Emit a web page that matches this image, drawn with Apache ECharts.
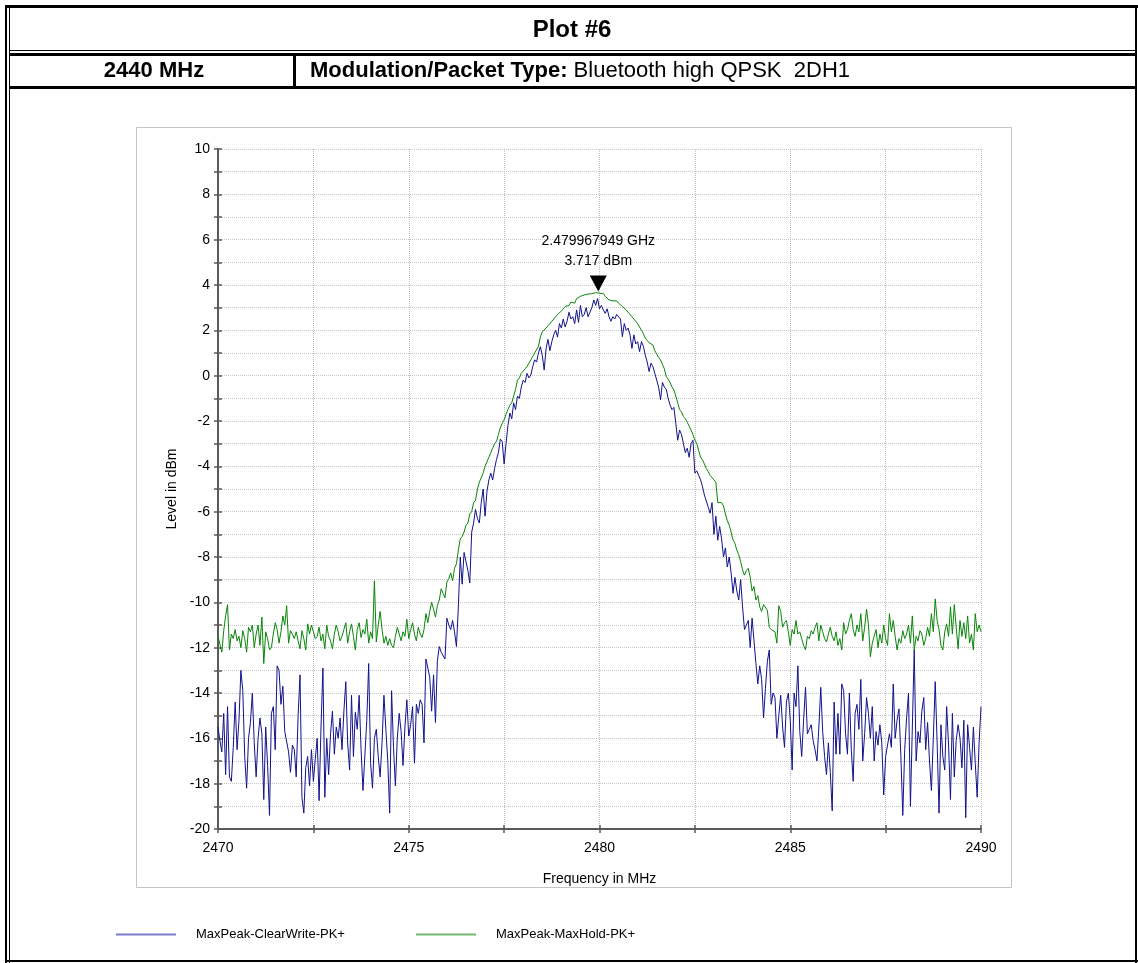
<!DOCTYPE html>
<html>
<head>
<meta charset="utf-8">
<script src="https://cdn.jsdelivr.net/npm/echarts@6/dist/echarts.min.js"></script>
<style>
html,body{margin:0;padding:0;background:#fff;}
#chart{width:1138px;height:963px;}
</style>
</head>
<body>
<div id="chart"></div>
<script>
// ---------- data ----------
const TITLE = 'Plot #6';
const CHANNEL = '2440 MHz';
const MOD_LABEL = 'Modulation/Packet Type:';
const MOD_VALUE = 'Bluetooth high QPSK  2DH1';
const X_NAME = 'Frequency in MHz';
const Y_NAME = 'Level in dBm';
const X_MIN = 2470, X_MAX = 2490, X_TICK = 2.5, X_LABEL_STEP = 5;
const Y_MIN = -20, Y_MAX = 10, Y_TICK = 1, Y_LABEL_STEP = 2;
const FREQ_START = 2470, FREQ_STEP = 0.05;   // sweep points (MHz)
const SERIES_NAMES = ['MaxPeak-ClearWrite-PK+', 'MaxPeak-MaxHold-PK+'];
const MARKER_FREQ_MHZ = 2479.967949;
const MARKER_LEVEL = 3.717;

const CLEARWRITE = [
-15.5,-16.1,-16.6,-14.9,-17.6,-14.6,-17.7,-17.9,-16.4,-14.4,-16.5,-15.2,-13.0,-13.9,-16.8,-18.2,-16.0,-15.3,-14.0,-16.2,
-17.7,-16.0,-15.1,-15.8,-18.7,-15.5,-17.2,-19.4,-14.9,-14.6,-16.5,-12.8,-13.0,-14.5,-13.7,-15.7,-15.7,-16.6,-17.5,-16.3,
-16.5,-17.7,-15.0,-13.2,-18.6,-19.3,-17.3,-16.8,-18.1,-16.5,-17.9,-16.9,-16.0,-18.75,-15.5,-12.9,-18.6,-16.0,-17.6,-15.8,
-14.8,-16.7,-15.5,-16.0,-15.1,-16.5,-14.8,-13.5,-16.25,-17.4,-14.1,-16.8,-14.85,-15.6,-14.1,-16.5,-18.3,-18.3,-15.2,-12.7,
-17.1,-18.2,-16.0,-15.6,-16.8,-17.7,-16.2,-14.1,-15.6,-17.0,-19.3,-13.9,-16.4,-18.1,-16.0,-14.9,-15.7,-17.2,-15.5,-14.3,
-15.9,-15.4,-14.6,-17.1,-14.5,-14.9,-14.3,-14.5,-16.2,-12.5,-12.9,-13.3,-14.8,-13.2,-15.3,-12.6,-11.95,-12.2,-12.2,-12.5,
-10.7,-11.0,-11.2,-10.8,-11.3,-11.95,-10.2,-8.0,-9.2,-7.8,-7.8,-8.6,-9.15,-6.9,-6.5,-5.9,-6.3,-6.5,-5.6,-5.0,
-6.2,-5.1,-4.6,-4.3,-4.6,-4.1,-3.7,-3.4,-2.8,-2.9,-3.9,-3.0,-2.2,-1.65,-1.9,-1.2,-1.5,-0.9,-1.0,-0.5,
-0.2,-0.3,0.1,-0.1,0.03,0.4,0.7,0.6,1.0,1.28,0.9,0.25,1.2,1.6,1.1,1.5,1.8,2.0,1.7,2.3,
2.1,2.5,2.15,2.4,2.8,2.5,2.6,2.3,2.9,2.35,3.1,2.6,2.7,3.0,2.6,2.8,3.0,3.34,3.1,3.4,
2.95,3.1,2.9,2.75,2.95,2.6,2.4,2.6,2.5,2.7,2.7,2.5,1.72,2.3,2.0,2.1,1.8,1.2,1.8,1.4,
1.5,1.06,1.5,1.3,0.9,0.6,0.18,0.55,0.4,0.1,0.1,-0.5,-1.07,-0.3,-0.5,-0.6,-1.0,-1.3,-1.5,-1.4,
-2.1,-2.85,-2.4,-2.6,-3.0,-3.4,-3.2,-3.6,-3.0,-2.85,-4.3,-4.2,-4.4,-4.6,-4.9,-5.27,-5.3,-5.8,-6.07,-5.6,
-7.0,-6.2,-7.26,-6.65,-7.2,-8.0,-7.6,-8.44,-8.0,-8.7,-9.6,-8.9,-9.5,-9.9,-9.0,-10.2,-11.2,-11.25,-10.8,-12.0,
-10.7,-11.7,-12.7,-13.6,-12.8,-13.4,-15.1,-13.8,-12.6,-12.1,-14.5,-14.0,-14.2,-16.0,-15.0,-14.1,-15.5,-16.4,-14.4,-14.0,
-15.2,-17.4,-14.0,-14.6,-12.8,-15.7,-16.8,-15.2,-13.75,-15.8,-15.6,-15.4,-16.1,-16.5,-17.0,-15.5,-13.75,-15.7,-16.8,-17.6,
-16.2,-17.5,-19.2,-14.4,-16.7,-14.9,-16.7,-13.6,-13.9,-15.8,-16.7,-14.0,-16.5,-17.9,-14.9,-14.5,-15.6,-13.4,-17.0,-15.8,
-14.2,-14.9,-16.0,-14.6,-17.0,-15.7,-16.3,-15.4,-16.2,-18.5,-16.8,-16.8,-15.8,-16.4,-13.6,-16.0,-15.2,-14.7,-16.8,-19.4,
-16.5,-15.1,-14.0,-19.0,-15.5,-12.1,-17.0,-15.7,-16.2,-14.8,-14.2,-16.5,-15.3,-17.0,-18.3,-16.0,-13.5,-16.2,-19.3,-15.4,
-16.8,-17.4,-14.6,-16.3,-18.7,-14.9,-17.7,-16.1,-15.4,-16.0,-17.3,-15.2,-19.5,-15.4,-16.4,-17.4,-15.5,-17.1,-18.6,-16.2,
-14.6
];

const MAXHOLD = [
-11.5,-11.5,-12.2,-11.25,-10.6,-10.1,-12.1,-11.4,-11.6,-11.2,-11.7,-11.5,-12.0,-11.25,-11.6,-12.2,-11.1,-11.3,-11.0,-12.0,
-11.4,-11.0,-11.9,-10.65,-12.7,-11.3,-11.6,-12.1,-12.0,-11.4,-10.9,-11.2,-11.8,-11.3,-10.6,-11.0,-10.15,-11.8,-11.25,-11.4,
-11.6,-11.3,-11.7,-12.05,-11.25,-11.6,-12.1,-10.95,-11.4,-11.0,-11.3,-11.6,-11.5,-11.1,-11.7,-11.4,-12.05,-11.0,-11.5,-11.7,
-12.05,-11.4,-11.0,-11.3,-11.7,-11.5,-11.2,-10.9,-11.8,-11.3,-10.95,-11.5,-12.1,-11.2,-10.9,-11.55,-11.2,-11.4,-10.75,-11.8,
-11.3,-11.6,-9.05,-11.75,-11.0,-10.4,-11.2,-11.8,-11.5,-11.9,-11.6,-11.9,-12.0,-11.5,-11.1,-11.4,-11.7,-11.3,-11.5,-10.75,
-11.6,-11.2,-10.9,-11.4,-11.7,-11.1,-11.4,-11.55,-11.2,-10.5,-10.9,-10.4,-10.0,-10.3,-10.65,-10.15,-9.9,-9.4,-9.6,-9.8,
-9.1,-8.95,-8.7,-9.05,-8.5,-8.3,-7.7,-7.2,-7.1,-6.9,-6.6,-6.5,-6.1,-6.0,-5.6,-5.5,-5.0,-4.7,-4.5,-4.3,
-4.0,-3.8,-3.6,-3.4,-3.2,-3.0,-2.9,-2.6,-2.3,-2.1,-1.95,-1.7,-1.5,-1.3,-1.2,-0.9,-0.6,-0.2,-0.1,0.1,
0.2,0.3,0.4,0.55,0.7,0.85,1.0,1.06,1.3,1.7,1.94,1.9,2.1,2.2,2.3,2.4,2.46,2.6,2.7,2.75,
2.85,2.95,3.05,3.12,3.1,3.25,3.3,3.2,3.4,3.35,3.5,3.45,3.56,3.5,3.6,3.55,3.62,3.55,3.66,3.717,
3.64,3.6,3.62,3.5,3.45,3.34,3.4,3.3,3.25,3.3,3.2,3.15,3.05,3.0,2.9,2.8,2.75,2.6,2.5,2.4,
2.3,2.24,2.0,1.85,1.66,1.55,1.45,1.4,1.35,1.1,0.95,0.8,0.69,0.5,0.3,-0.04,-0.15,-0.3,-0.5,-0.63,
-0.9,-1.2,-1.5,-1.6,-1.8,-1.9,-2.05,-2.1,-2.4,-2.6,-2.84,-3.0,-3.3,-3.6,-3.72,-3.9,-4.1,-4.23,-4.4,-4.5,
-4.6,-4.7,-5.6,-5.55,-5.6,-5.75,-6.1,-6.4,-6.6,-6.9,-7.25,-7.4,-7.7,-7.9,-8.2,-8.57,-8.8,-8.6,-8.5,-8.9,
-9.5,-9.3,-9.9,-9.7,-10.2,-10.4,-10.1,-10.1,-10.35,-11.1,-11.2,-11.25,-11.3,-11.8,-10.15,-10.4,-11.1,-10.9,-10.8,-11.3,
-11.9,-11.2,-11.4,-10.8,-11.4,-11.3,-11.6,-11.9,-12.1,-11.5,-11.6,-11.25,-11.4,-11.1,-10.9,-11.7,-11.0,-11.3,-11.6,-11.75,
-11.4,-11.1,-11.5,-11.7,-11.3,-11.9,-11.6,-12.1,-10.9,-11.4,-11.2,-10.8,-10.5,-11.2,-11.5,-11.0,-11.3,-10.5,-11.7,-11.1,
-10.3,-11.0,-12.4,-11.8,-11.5,-11.2,-12.0,-11.4,-11.8,-11.0,-11.6,-11.9,-10.5,-11.3,-10.8,-11.5,-12.1,-11.6,-11.8,-11.25,
-11.6,-11.4,-11.0,-11.8,-10.6,-12.1,-11.5,-11.7,-11.25,-11.4,-11.9,-11.6,-11.1,-11.5,-10.5,-11.3,-9.85,-10.8,-11.2,-11.9,
-12.1,-11.3,-10.95,-11.5,-10.2,-11.4,-10.1,-11.1,-12.05,-10.8,-11.5,-10.9,-11.6,-10.6,-11.8,-11.4,-12.1,-10.5,-11.3,-11.0,
-11.3
];

// ---------- build ----------
const FONT = '"Liberation Sans", Arial, Helvetica, sans-serif';
const toPairs = arr => arr.map((v, i) => [+(FREQ_START + i * FREQ_STEP).toFixed(2), v]);

const chart = echarts.init(document.getElementById('chart'), null, {renderer: 'canvas'});

function bar(x, y, w, h) {
  return {type: 'rect', silent: true, z: 100, shape: {x: x, y: y, width: w, height: h}, style: {fill: '#000'}};
}

const axisLineColor = '#5a5a5a';

const option = {
  animation: false,
  backgroundColor: '#ffffff',
  textStyle: {fontFamily: FONT},
  graphic: {elements: [
    // page / table borders
    bar(5, 5, 1133, 3),
    bar(5, 5, 2, 958),
    bar(9, 8, 1, 955),
    bar(1135, 5, 2, 958),
    bar(9, 50, 1127, 1),
    bar(9, 53, 1127, 3),
    bar(9, 86, 1127, 3),
    bar(293, 55, 3, 32),
    bar(5, 960, 1133, 2),
    // chart frame
    {type: 'rect', silent: true, z: 0, shape: {x: 136.5, y: 127.5, width: 875, height: 760},
     style: {fill: 'none', stroke: '#c4c4c4', lineWidth: 1}},
    // header texts
    {type: 'text', silent: true, z: 100, x: 572, y: 30,
     style: {text: TITLE, font: 'bold 24px ' + FONT, fill: '#000', textAlign: 'center', textVerticalAlign: 'middle', align: 'center', verticalAlign: 'middle'}},
    {type: 'text', silent: true, z: 100, x: 154, y: 71,
     style: {text: CHANNEL, font: 'bold 22px ' + FONT, fill: '#000', textAlign: 'center', textVerticalAlign: 'middle', align: 'center', verticalAlign: 'middle'}},
    {type: 'text', silent: true, z: 100, x: 310, y: 71,
     style: {text: '{b|' + MOD_LABEL + '} ' + MOD_VALUE, font: '22px ' + FONT, fill: '#000',
             textAlign: 'left', textVerticalAlign: 'middle', align: 'left', verticalAlign: 'middle',
             rich: {b: {fontWeight: 'bold', fontSize: 22, fontFamily: FONT, fill: '#000', color: '#000'}}}}
  ]},
  legend: [
    {data: [{name: SERIES_NAMES[0], itemStyle: {color: '#7b7bc9'}}], left: 111, top: 923, icon: 'rect',
     itemWidth: 60, itemHeight: 2, selectedMode: false,
     textStyle: {fontFamily: FONT, fontSize: 13, color: '#000', padding: [0, 0, 0, 15]}},
    {data: [{name: SERIES_NAMES[1], itemStyle: {color: '#72ba72'}}], left: 411, top: 923, icon: 'rect',
     itemWidth: 60, itemHeight: 2, selectedMode: false,
     textStyle: {fontFamily: FONT, fontSize: 13, color: '#000', padding: [0, 0, 0, 15]}}
  ],
  grid: {left: 218, top: 149, width: 763, height: 680, containLabel: false},
  xAxis: [
    {type: 'value', min: X_MIN, max: X_MAX, interval: X_TICK, position: 'bottom',
     name: X_NAME, nameLocation: 'middle', nameGap: 43,
     nameTextStyle: {fontFamily: FONT, fontSize: 14, color: '#000'},
     axisLine: {show: true, onZero: false, lineStyle: {color: axisLineColor, width: 2}},
     axisTick: {show: true, inside: false, length: 4, lineStyle: {color: axisLineColor, width: 1.5}},
     axisLabel: {margin: 12, fontFamily: FONT, fontSize: 14, color: '#000',
       formatter: v => (Math.abs(v / X_LABEL_STEP - Math.round(v / X_LABEL_STEP)) < 1e-6 ? String(Math.round(v)) : '')},
     splitLine: {show: true, lineStyle: {color: '#bdbdbd', type: 'dotted', width: 1}}},
    {type: 'value', min: X_MIN, max: X_MAX, interval: X_TICK, position: 'bottom', gridIndex: 0,
     axisLine: {show: false, onZero: false}, axisLabel: {show: false}, splitLine: {show: false},
     axisTick: {show: true, inside: true, length: 4, lineStyle: {color: axisLineColor, width: 1.5}}}
  ],
  yAxis: [
    {type: 'value', min: Y_MIN, max: Y_MAX, interval: Y_TICK, position: 'left',
     name: Y_NAME, nameLocation: 'middle', nameGap: 38, nameRotate: 90,
     nameTextStyle: {fontFamily: FONT, fontSize: 14, color: '#000'},
     axisLine: {show: true, onZero: false, lineStyle: {color: axisLineColor, width: 2}},
     axisTick: {show: true, inside: false, length: 4, lineStyle: {color: axisLineColor, width: 1.5}},
     axisLabel: {margin: 8, fontFamily: FONT, fontSize: 14, color: '#000',
       formatter: v => (Math.round(v) % Y_LABEL_STEP === 0 ? String(Math.round(v)) : '')},
     splitLine: {show: true, lineStyle: {color: '#c6c6c6', type: 'dotted', width: 1}}},
    {type: 'value', min: Y_MIN, max: Y_MAX, interval: Y_TICK, position: 'left', gridIndex: 0,
     axisLine: {show: false, onZero: false}, axisLabel: {show: false}, splitLine: {show: false},
     axisTick: {show: true, inside: true, length: 4, lineStyle: {color: axisLineColor, width: 1.5}}}
  ],
  series: [
    {name: SERIES_NAMES[0], type: 'line', xAxisIndex: 0, yAxisIndex: 0, data: toPairs(CLEARWRITE),
     showSymbol: false, symbol: 'none', silent: true,
     lineStyle: {color: '#12128c', width: 1}, itemStyle: {color: '#12128c'}},
    {name: SERIES_NAMES[1], type: 'line', xAxisIndex: 0, yAxisIndex: 0, data: toPairs(MAXHOLD),
     showSymbol: false, symbol: 'none', silent: true,
     lineStyle: {color: '#0a850a', width: 1}, itemStyle: {color: '#0a850a'},
     markPoint: {
       silent: true,
       data: [{
         coord: [MARKER_FREQ_MHZ, MARKER_LEVEL],
         symbol: 'triangle', symbolRotate: 180, symbolSize: [17, 16], symbolOffset: [0, -8],
         itemStyle: {color: '#000'},
         label: {show: true, position: 'top', distance: 4, color: '#000', fontFamily: FONT, fontSize: 14, lineHeight: 20,
           formatter: (MARKER_FREQ_MHZ / 1000).toFixed(9) + ' GHz\n' + MARKER_LEVEL.toFixed(3) + ' dBm'}
       }]
     }}
  ]
};
chart.setOption(option);
</script>
</body>
</html>
